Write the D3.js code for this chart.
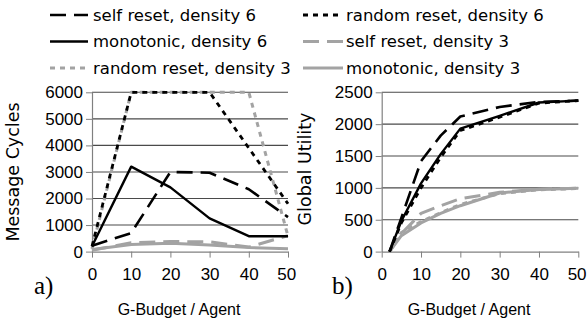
<!DOCTYPE html>
<html>
<head>
<meta charset="utf-8">
<script src="https://cdn.jsdelivr.net/npm/d3@7"></script>
<style>
    body { margin: 0; background: #fff; }
    svg { display: block; }
    text { font-family: "DejaVu Sans", sans-serif; fill: #000; }
</style>
</head>
<body>
<script>
'use strict';

// a) Message Cycles
var budgetA = [0, 10, 20, 30, 40, 50];
var cyclesSelf6 = [220, 700, 3000, 2970, 2350, 1300];
var cyclesRandom6 = [200, 6000, 6000, 6000, 3900, 1800];
var cyclesMono6 = [200, 3200, 2420, 1250, 580, 580];
var cyclesSelf3 = [50, 330, 380, 370, 170, 600];
var cyclesRandom3 = [100, 6000, 6000, 6000, 6000, 580];
var cyclesMono3 = [80, 270, 310, 250, 150, 110];

// b) Global Utility
var budgetB = [2, 5, 10, 15, 20, 30, 40, 50];
var utilSelf6 = [0, 530, 1420, 1820, 2120, 2270, 2350, 2370];
var utilRandom6 = [0, 450, 1000, 1480, 1900, 2110, 2330, 2370];
var utilMono6 = [0, 480, 1070, 1530, 1930, 2130, 2340, 2370];
var utilSelf3 = [0, 280, 600, 720, 830, 930, 980, 995];
var utilRandom3 = [0, 300, 470, 610, 740, 910, 970, 990];
var utilMono3 = [0, 250, 450, 600, 720, 920, 975, 995];

var xTicks = [0, 10, 20, 30, 40, 50];
var yTicksA = [0, 1000, 2000, 3000, 4000, 5000, 6000];
var yTicksB = [0, 500, 1000, 1500, 2000, 2500];

var seriesNames = [
    'self reset, density 6', 'random reset, density 6',
    'monotonic, density 6', 'self reset, density 3',
    'random reset, density 3', 'monotonic, density 3'
];

var black = '#000';
var gray = '#a3a3a3';
var longDash = '16,8';
var shortDash = '5,5';

var styles = {
    'self reset, density 6': { color: black, dash: longDash, w: 2.6 },
    'random reset, density 6': { color: black, dash: shortDash, w: 2.8 },
    'monotonic, density 6': { color: black, dash: null, w: 2.4 },
    'self reset, density 3': { color: gray, dash: longDash, w: 3 },
    'random reset, density 3': { color: gray, dash: shortDash, w: 3 },
    'monotonic, density 3': { color: gray, dash: null, w: 3 }
};

var width = 587;
var height = 320;
var sans = '"Liberation Sans", Arial, sans-serif';

var svg = d3.select('body')
    .append('svg')
    .attr('width', width)
    .attr('height', height)
    ;

function drawPanel(opts) {
    var x = d3.scaleLinear().domain([0, 50]).range([opts.left, opts.right]);
    var y = d3.scaleLinear().domain([0, opts.yMax]).range([251.6, 92.3]);
    var g = svg.append('g');

    // gridlines
    g.selectAll('line.grid')
        .data(opts.yTicks.filter(function (d) { return d > 0; }))
        .enter()
        .append('line')
        .attr('x1', opts.left)
        .attr('x2', opts.right)
        .attr('y1', y)
        .attr('y2', y)
        .attr('stroke', '#4a4a4a')
        .attr('stroke-width', 1.1)
        ;

    // y axis
    var yAxis = d3.axisLeft(y)
        .tickValues(opts.yTicks)
        .tickFormat(d3.format('d'))
        .tickSize(6)
        .tickPadding(3)
        .tickSizeOuter(0)
        ;
    var ya = g.append('g')
        .attr('transform', 'translate(' + opts.left + ',0)')
        .call(yAxis)
        ;
    ya.select('.domain').attr('stroke', '#808080').attr('stroke-width', 1.2);
    ya.selectAll('.tick line').attr('stroke', '#808080');
    ya.selectAll('.tick text')
        .style('font-family', sans)
        .style('font-size', '17px')
        .attr('fill', '#000')
        ;

    // x axis
    var xAxis = d3.axisBottom(x)
        .tickValues(xTicks)
        .tickFormat(d3.format('d'))
        .tickSize(6)
        .tickPadding(10)
        .tickSizeOuter(0)
        ;
    var xa = g.append('g')
        .attr('transform', 'translate(0,' + y(0) + ')')
        .call(xAxis)
        ;
    xa.select('.domain').attr('stroke', '#808080').attr('stroke-width', 1.2);
    xa.selectAll('.tick line').attr('stroke', '#808080');
    xa.selectAll('.tick text')
        .style('font-family', sans)
        .style('font-size', '17px')
        .attr('fill', '#000')
        .attr('dx', function (d) { return d === 50 ? '-0.1em' : null; })
        ;

    var line = d3.line()
        .x(function (d) { return x(d[0]); })
        .y(function (d) { return y(d[1]); })
        ;

    // gray series first, black on top
    var order = [3, 4, 5, 0, 1, 2];
    g.selectAll('path.series')
        .data(order)
        .enter()
        .append('path')
        .attr('d', function (i) {
            return line(opts.xs.map(function (v, j) { return [v, opts.series[i][j]]; }));
        })
        .attr('fill', 'none')
        .attr('stroke', function (i) { return styles[seriesNames[i]].color; })
        .attr('stroke-width', function (i) { return styles[seriesNames[i]].w; })
        .attr('stroke-dasharray', function (i) { return styles[seriesNames[i]].dash; })
        .attr('stroke-linejoin', 'round')
        ;

    // titles
    g.append('text')
        .attr('x', (opts.left + opts.right) / 2 - 11)
        .attr('y', 315)
        .attr('text-anchor', 'middle')
        .style('font-family', sans)
        .style('font-size', '16px')
        .text('G-Budget / Agent')
        ;

    g.append('text')
        .attr('transform', 'translate(' + opts.titleX + ',' + opts.titleY + ') rotate(-90)')
        .attr('text-anchor', 'middle')
        .attr('dominant-baseline', 'middle')
        .style('font-size', '17.5px')
        .text(opts.yTitle)
        ;

    g.append('text')
        .attr('x', opts.letterX)
        .attr('y', 294)
        .style('font-family', '"Liberation Serif", serif')
        .style('font-size', '25px')
        .text(opts.letter)
        ;
}

drawPanel({
    left: 92, right: 288, yMax: 6000, yTicks: yTicksA,
    xs: budgetA,
    series: [cyclesSelf6, cyclesRandom6, cyclesMono6, cyclesSelf3, cyclesRandom3, cyclesMono3],
    yTitle: 'Message Cycles', titleX: 14, titleY: 172,
    letter: 'a)', letterX: 34
});

drawPanel({
    left: 381.7, right: 578.3, yMax: 2500, yTicks: yTicksB,
    xs: budgetB,
    series: [utilSelf6, utilRandom6, utilMono6, utilSelf3, utilRandom3, utilMono3],
    yTitle: 'Global Utility', titleX: 306, titleY: 169,
    letter: 'b)', letterX: 332
});

// legend
var legendRows = [15, 41.5, 68];
var legendCols = [{ x1: 50, x2: 88, tx: 93 }, { x1: 303, x2: 343, tx: 346 }];

var legend = svg.selectAll('g.legend')
    .data(seriesNames)
    .enter()
    .append('g')
    .attr('transform', function (d, i) {
        return 'translate(0,' + legendRows[Math.floor(i / 2)] + ')';
    })
    ;

legend.append('line')
    .attr('x1', function (d, i) { return legendCols[i % 2].x1; })
    .attr('x2', function (d, i) { return legendCols[i % 2].x2; })
    .attr('stroke', function (d) { return styles[d].color; })
    .attr('stroke-width', function (d) { return styles[d].w; })
    .attr('stroke-dasharray', function (d) { return styles[d].dash; })
    ;

legend.append('text')
    .attr('x', function (d, i) { return legendCols[i % 2].tx; })
    .attr('dominant-baseline', 'central')
    .style('font-size', '16.5px')
    .text(function (d) { return d; })
    ;
</script>
</body>
</html>
